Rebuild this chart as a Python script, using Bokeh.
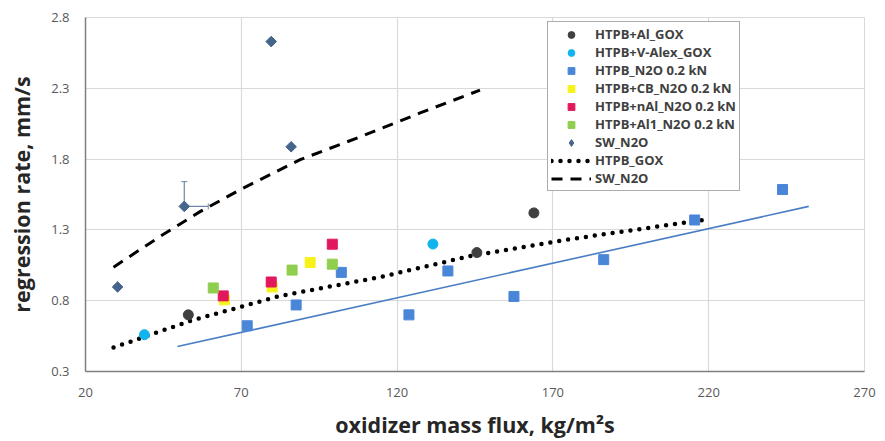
import math
from bokeh.plotting import figure
from bokeh.models import (ColumnDataSource, FixedTicker, Legend, LegendItem, Whisker, Range1d)
from bokeh.embed import file_html
from bokeh.resources import INLINE

# ---- data ----
al_gox_x = [53.0, 145.6, 163.9]
al_gox_y = [0.70, 1.14, 1.42]

valex_x = [38.9, 131.5]
valex_y = [0.56, 1.20]

n2o_x = [71.9, 87.6, 102.1, 123.8, 136.3, 157.5, 186.3, 215.5, 243.7]
n2o_y = [0.623, 0.77, 1.00, 0.70, 1.01, 0.83, 1.09, 1.37, 1.585]

cb_x = [64.6, 79.9, 92.1]
cb_y = [0.806, 0.897, 1.07]

nal_x = [64.2, 79.6, 99.2]
nal_y = [0.834, 0.932, 1.199]

al1_x = [61.0, 86.3, 99.2]
al1_y = [0.89, 1.016, 1.058]

sw_x = [30.3, 51.7, 79.6, 86.0]
sw_y = [0.897, 1.466, 2.63, 1.887]

# error bars on one SW_N2O point (plus direction only)
err_x = [51.7]
err_y = [1.466]
err_y_up = [1.641]
err_x_right = [59.4]

# fit lines
n2o_fit_x = [49.5, 252.1]
n2o_fit_y = [0.476, 1.466]

htpb_gox_x = [29.0, 53.7, 82.5, 114.6, 143.4, 175.4, 219.4]
htpb_gox_y = [0.469, 0.658, 0.834, 0.967, 1.115, 1.234, 1.374]

sw_fit_x = [29.0, 44.0, 56.9, 69.7, 88.9, 108.1, 127.4, 146.6]
sw_fit_y = [1.037, 1.255, 1.431, 1.585, 1.796, 1.957, 2.126, 2.287]

x_ticks = [20, 70, 120, 170, 220, 270]
y_ticks = [0.3, 0.8, 1.3, 1.8, 2.3, 2.8]

labels = ["HTPB+Al_GOX", "HTPB+V-Alex_GOX", "HTPB_N2O 0.2 kN", "HTPB+CB_N2O 0.2 kN",
          "HTPB+nAl_N2O 0.2 kN", "HTPB+Al1_N2O 0.2 kN", "SW_N2O", "HTPB_GOX", "SW_N2O"]

FONT = "Open Sans"

p = figure(width=885, height=441, output_backend="svg", toolbar_location=None,
           x_range=Range1d(20, 270), y_range=Range1d(0.3, 2.8),
           min_border_left=85, min_border_right=21, min_border_top=17, min_border_bottom=68)
p.background_fill_color = "white"
p.border_fill_color = "white"
p.outline_line_color = "#d9d9d9"

p.xaxis.ticker = FixedTicker(ticks=x_ticks)
p.yaxis.ticker = FixedTicker(ticks=y_ticks)
p.yaxis.formatter.use_scientific = False
for ax in (p.xaxis[0], p.yaxis[0]):
    ax.axis_line_color = "#7f7f7f"
    ax.axis_line_width = 1.5
    ax.major_tick_line_color = None
    ax.minor_tick_line_color = None
    ax.major_label_text_font = FONT
    ax.major_label_text_font_size = "13px"
    ax.major_label_text_color = "#595959"
    ax.axis_label_text_font = FONT
    ax.axis_label_text_font_style = "bold"
    ax.axis_label_text_font_size = "21.5px"
    ax.axis_label_text_color = "#262626"
p.xaxis.axis_label = "oxidizer mass flux, kg/m²s"
p.yaxis.axis_label = "regression rate, mm/s"
p.xaxis.major_label_standoff = 10
p.yaxis.major_label_standoff = 10
p.xaxis.axis_label_standoff = 10
p.yaxis.axis_label_standoff = 12

p.grid.grid_line_color = "#d9d9d9"
p.grid.grid_line_width = 1.2

# lines
r_fit = p.line(n2o_fit_x, n2o_fit_y, line_color="#4a7ec4", line_width=1.6)
r_gox = p.line(htpb_gox_x, htpb_gox_y, line_color="black", line_width=4.5,
               line_dash="0 9", line_cap="round")
r_swl = p.line(sw_fit_x, sw_fit_y, line_color="black", line_width=3,
               line_dash="11 8")

# error bars
src_err = ColumnDataSource(dict(x=err_x, y=err_y, up=err_y_up, right=err_x_right))
wv = Whisker(base="x", lower="y", upper="up", dimension="height", source=src_err,
             line_color="#6f86a6", line_width=1.2, lower_head=None)
wv.upper_head.size = 6
wv.upper_head.line_color = "#6f86a6"
wh = Whisker(base="y", lower="x", upper="right", dimension="width", source=src_err,
             line_color="#6f86a6", line_width=1.2, lower_head=None)
wh.upper_head.size = 6
wh.upper_head.line_color = "#6f86a6"
p.add_layout(wv)
p.add_layout(wh)

# markers
r_al = p.scatter(al_gox_x, al_gox_y, marker="circle", size=10, fill_color="#404040", line_color="#404040")
r_va = p.scatter(valex_x, valex_y, marker="circle", size=10, fill_color="#12b4ee", line_color="#12b4ee")
r_n2o = p.scatter(n2o_x, n2o_y, marker="square", size=10, fill_color="#4a86d8", line_color="#4a86d8")
r_cb = p.scatter(cb_x, cb_y, marker="square", size=10, fill_color="#f7f21a", line_color="#f7f21a")
r_nal = p.scatter(nal_x, nal_y, marker="square", size=10, fill_color="#e2185e", line_color="#e2185e")
r_al1 = p.scatter(al1_x, al1_y, marker="square", size=10, fill_color="#8fce4e", line_color="#8fce4e")
r_sw = p.scatter(sw_x, sw_y, marker="square", size=7.5, angle=math.pi / 4,
                 fill_color="#46658d", line_color="#46658d")
# legend-only proxy for the diamond symbol (no data drawn)
r_sw_leg = p.scatter([float("nan")], [float("nan")], marker="diamond", size=10,
                     fill_color="#46658d", line_color="#46658d")

renderers = [r_al, r_va, r_n2o, r_cb, r_nal, r_al1, r_sw_leg, r_gox, r_swl]
items = [LegendItem(label=l, renderers=[r]) for l, r in zip(labels, renderers)]
legend = Legend(items=items, location=(462, 180))
legend.label_text_font = FONT
legend.label_text_font_style = "bold"
legend.label_text_font_size = "13px"
legend.label_text_color = "#404040"
legend.glyph_width = 40
legend.glyph_height = 17
legend.label_height = 17
legend.spacing = 0
legend.padding = 3
legend.margin = 0
legend.label_standoff = 4
legend.border_line_color = "#595959"
legend.border_line_width = 1
legend.background_fill_alpha = 1
p.add_layout(legend, "center")

open("out.html", "w").write(file_html(p, INLINE))
